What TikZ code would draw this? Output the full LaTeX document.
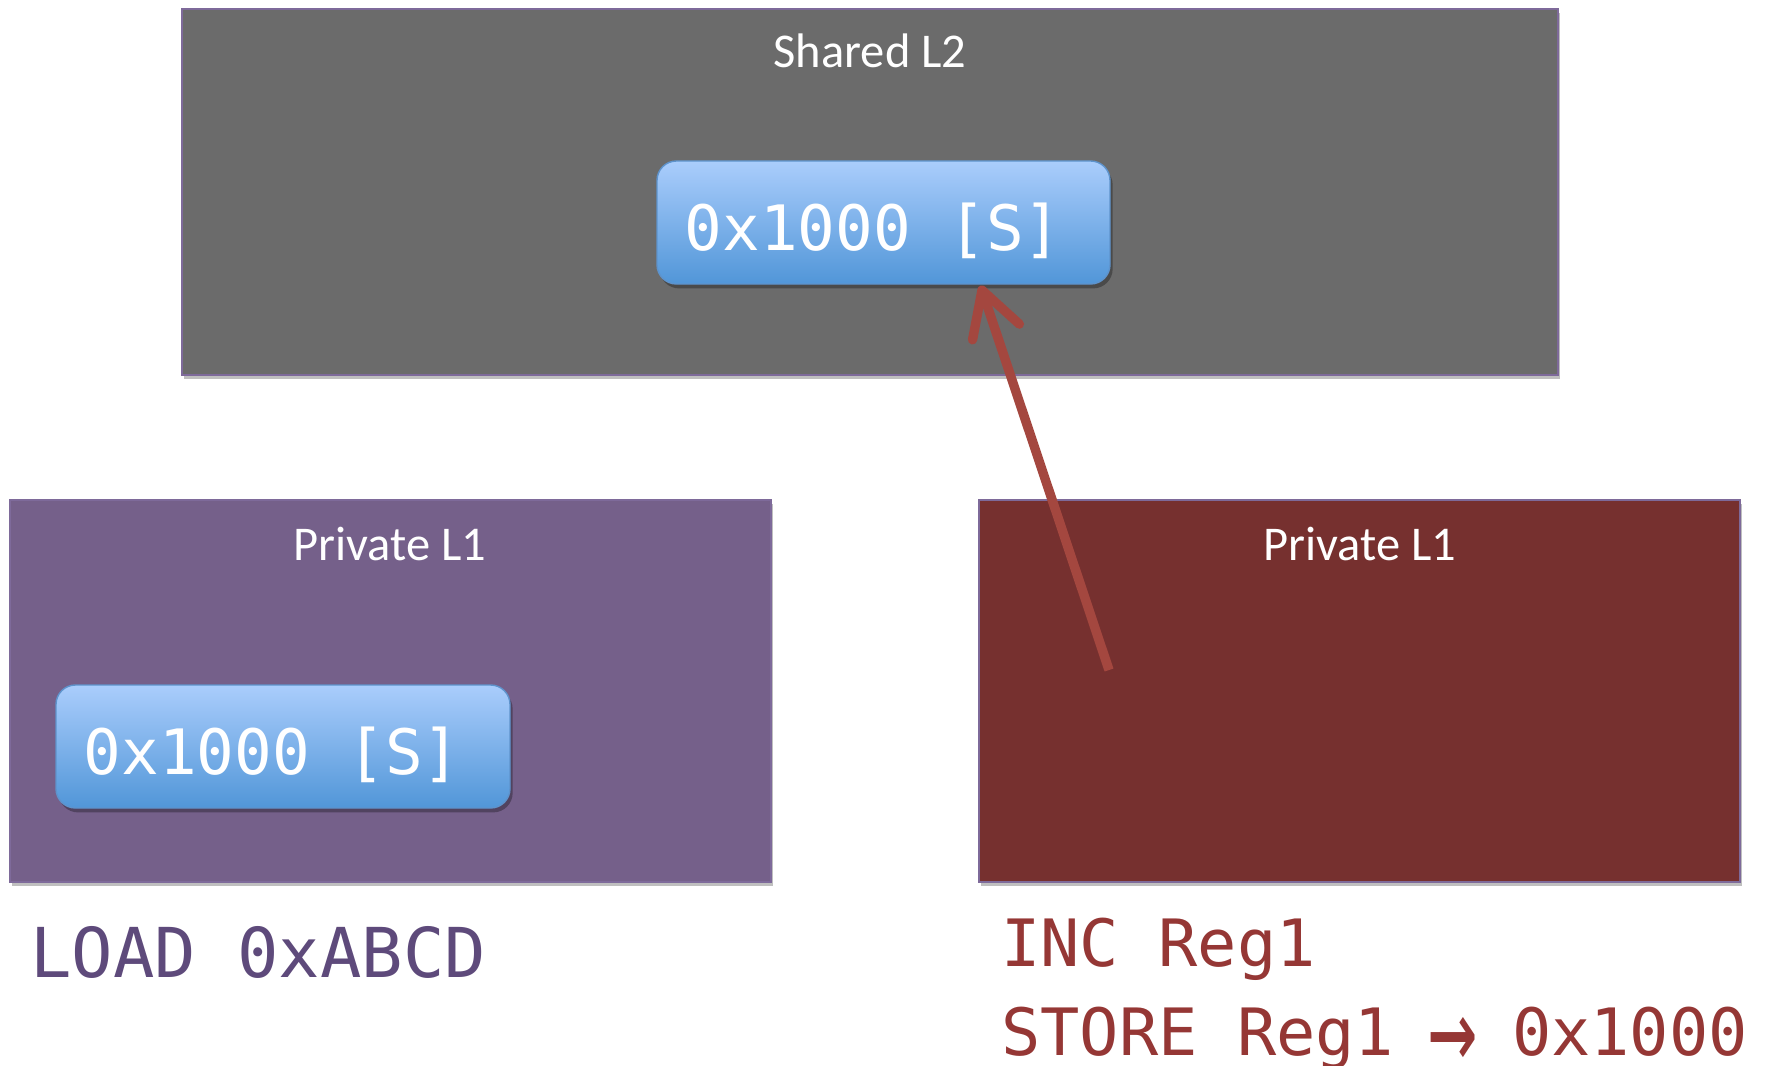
\documentclass[tikz,border=0pt]{standalone}
\usepackage{fontspec}
\setmainfont{Carlito}
\newfontfamily\codefont{DejaVu Sans Mono}
\usetikzlibrary{fit,shadows,arrows.meta,calc}

\definecolor{l2gray}{HTML}{6B6B6B}
\definecolor{edgepurple}{HTML}{7E6A9A}
\definecolor{lpurple}{HTML}{75608A}
\definecolor{rred}{HTML}{76302F}
\definecolor{bluetop}{HTML}{AACDFC}
\definecolor{bluebot}{HTML}{5196D8}
\definecolor{blueedge}{HTML}{5E93CC}
\definecolor{arrowred}{HTML}{A4473F}
\definecolor{loadtxt}{HTML}{5E4A7B}
\definecolor{storetxt}{HTML}{953735}

\tikzset{
  cachebox/.style={inner sep=0pt, draw=edgepurple, line width=0.8pt,
    drop shadow={shadow xshift=1.2pt, shadow yshift=-2.2pt, opacity=0.25, fill=black}},
  lineblk/.style={inner sep=0pt, rounded corners=11pt, draw=blueedge, line width=0.8pt,
    top color=bluetop, bottom color=bluebot,
    drop shadow={shadow xshift=1.5pt, shadow yshift=-2.5pt, opacity=0.3, fill=black}},
  boxlabel/.style={text=white, font=\fontsize{27.5}{32}\selectfont},
  blktext/.style={text=white, inner sep=0pt, anchor=west, font=\codefont\fontsize{35.5}{40}\selectfont},
  codetext/.style={inner sep=0pt, anchor=base west, font=\codefont\fontsize{37}{44}\selectfont},
  msgarrow/.style={draw=arrowred, line width=5.3pt,
    -{Straight Barb[length=25pt, width=28pt, round]}}
}
% arrow glyph enlarged towards the height of the capitals
\newcommand\tallarrow{\makebox[0.6em]{\raisebox{-9.5pt}{\scalebox{1.25}[1.9]{→}}}}

\begin{document}
\begin{tikzpicture}[x=0.5669pt, y=-0.5669pt]
  \useasboundingbox (0,0) rectangle (1769,1066);
  \fill[white] (0,0) rectangle (1769,1066);

  % shared level-2 cache
  \node[cachebox, fill=l2gray, fit={(182,9) (1558,375)}] (l2) {};
  \node[boxlabel] (l2lab) at (870,51) {Shared L2};
  \node[lineblk, fit={(657,161) (1110,284)}] (l2blk) {};
  \node[blktext] (l2txt) at ($(l2blk.west)+(28,8)$) {0x1000 [S]};

  % left private level-1 cache
  \node[cachebox, fill=lpurple, fit={(10,500) (771,882)}] (l1a) {};
  \node[boxlabel] (l1alab) at (390,544) {Private L1};
  \node[lineblk, fit={(56,685) (510,808)}] (l1ablk) {};
  \node[blktext] (l1atxt) at ($(l1ablk.west)+(28,8)$) {0x1000 [S]};

  % right private level-1 cache
  \node[cachebox, fill=rred, fit={(979,500) (1740,882)}] (l1b) {};
  \node[boxlabel] (l1blab) at (1360,544) {Private L1};

  % write request travelling up to the shared cache
  \coordinate (src) at (1109,670);
  \draw[msgarrow] (src) -- ($(l2blk.south)+(97,1)$);

  % instruction streams
  \node[codetext, text=loadtxt, font=\codefont\fontsize{39}{44}\selectfont] (loadop) at (30,977) {LOAD 0xABCD};
  \node[codetext, text=storetxt] (incop) at (1001,966) {INC Reg1};
  \node[codetext, text=storetxt] (storeop) at (1001,1055) {STORE Reg1 \tallarrow{} 0x1000};
\end{tikzpicture}
\end{document}
